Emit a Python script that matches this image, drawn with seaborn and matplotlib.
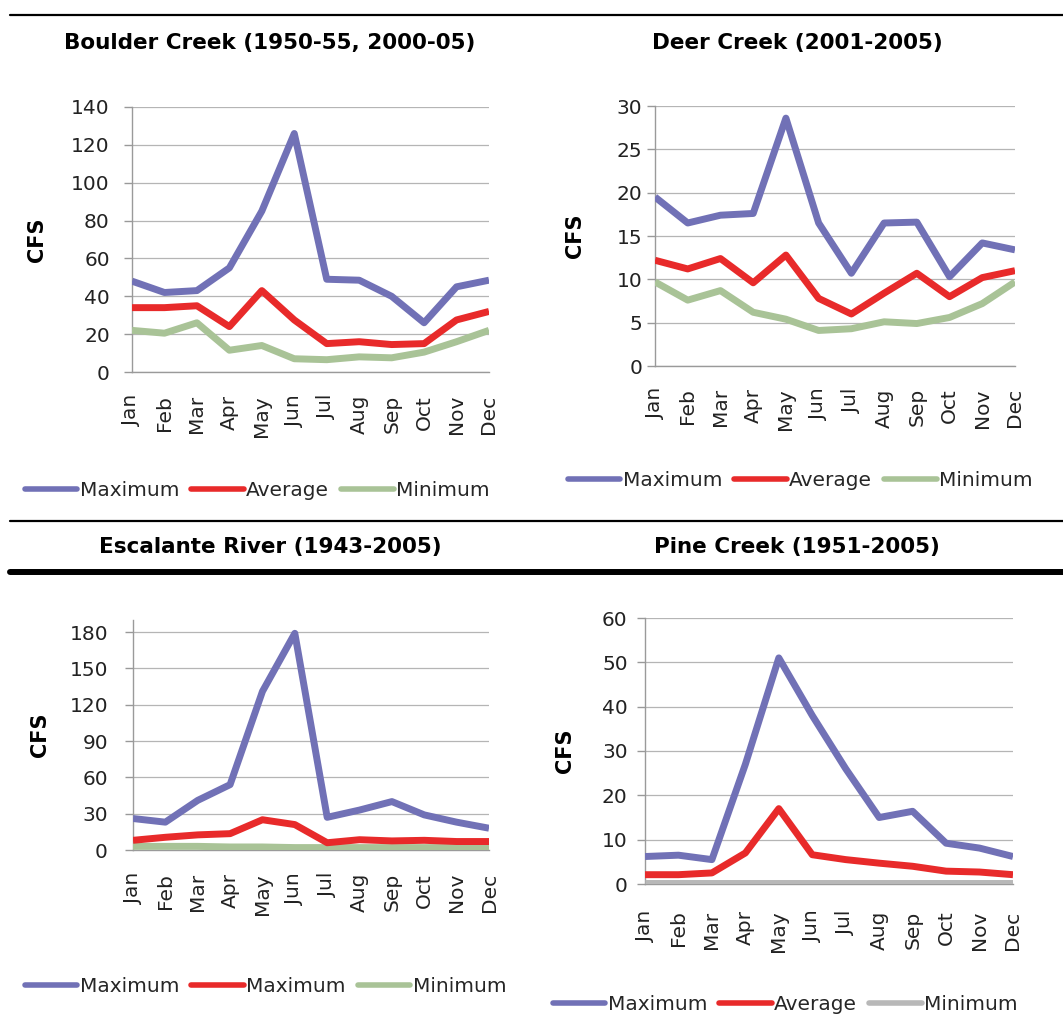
import matplotlib
matplotlib.use("Agg")
import matplotlib.pyplot as plt
import seaborn as sns
import numpy as np
import pandas as pd
from matplotlib.lines import Line2D

sns.set_theme(style="white")
plt.rcParams['font.family'] = ['DejaVu Sans']

months = ['Jan', 'Feb', 'Mar', 'Apr', 'May', 'Jun', 'Jul', 'Aug', 'Sep', 'Oct', 'Nov', 'Dec']

boulder_max = [48, 42, 43, 55, 85, 126, 49, 48.5, 40, 26, 45, 48.5]
boulder_avg = [34, 34, 35, 24, 43, 27.5, 15, 16, 14.5, 15, 27.5, 32]
boulder_min = [22, 20.5, 26, 11.5, 14, 7, 6.5, 8, 7.5, 10.5, 16, 22]

deer_max = [19.5, 16.5, 17.4, 17.6, 28.6, 16.5, 10.7, 16.5, 16.6, 10.3, 14.2, 13.4]
deer_avg = [12.2, 11.2, 12.4, 9.6, 12.8, 7.8, 6.0, 8.4, 10.7, 8.0, 10.2, 11.0]
deer_min = [9.7, 7.6, 8.7, 6.2, 5.4, 4.1, 4.3, 5.1, 4.9, 5.6, 7.2, 9.7]

escalante_max = [26, 23, 41, 54, 131, 179, 27, 33, 40, 29, 23, 18]
escalante_avg = [8, 10.5, 12.5, 13.5, 25, 21, 6, 8.5, 7.5, 8, 7, 7]
escalante_min = [3, 3, 3, 2.5, 2.5, 2, 2, 2, 2, 2, 2, 2.5]

pine_max = [6.2, 6.5, 5.5, 27, 51, 38, 26, 15, 16.4, 9.2, 8.1, 6.2]
pine_avg = [2.1, 2.1, 2.5, 7, 17, 6.6, 5.5, 4.7, 4.0, 2.9, 2.7, 2.1]
pine_min = [0.2, 0.2, 0.2, 0.2, 0.2, 0.2, 0.2, 0.2, 0.2, 0.2, 0.2, 0.2]

titles = ['Boulder Creek (1950-55, 2000-05)', 'Deer Creek (2001-2005)',
          'Escalante River (1943-2005)', 'Pine Creek (1951-2005)']
labels_std = ['Maximum', 'Average', 'Minimum']
labels_esc = ['Maximum', 'Maximum', 'Minimum']

C_MAX = '#7171b6'
C_AVG = '#e82a2a'
C_MIN = '#a9c397'
C_MIN_GRAY = '#b8b8b8'

W, H = 1063, 1025
fig = plt.figure(figsize=(W / 100, H / 100), dpi=100)

def px_axes(left, right, top, bottom):
    return fig.add_axes([left / W, 1 - bottom / H, (right - left) / W, (bottom - top) / H])

panels = [
    dict(box=(132, 489, 107, 372), series=(boulder_max, boulder_avg, boulder_min),
         labels=labels_std, ymax=140, ystep=20, ytop=140, ypad=10, xpad=16.5,
         lab_x=-0.238, leg=(25, 491), mincol=C_MIN, title=(270, 43)),
    dict(box=(655, 1015, 106, 366), series=(deer_max, deer_avg, deer_min),
         labels=labels_std, ymax=30, ystep=5, ytop=30, ypad=3, xpad=16,
         lab_x=-0.194, leg=(568, 481), mincol=C_MIN, title=(797, 43)),
    dict(box=(133, 489, 620, 850), series=(escalante_max, escalante_avg, escalante_min),
         labels=labels_esc, ymax=180, ystep=30, ytop=190, ypad=12, xpad=16.5,
         lab_x=-0.233, leg=(25, 987), mincol=C_MIN, title=(270, 547)),
    dict(box=(645, 1013, 618, 884), series=(pine_max, pine_avg, pine_min),
         labels=labels_std, ymax=60, ystep=10, ytop=60, ypad=6.5, xpad=19,
         lab_x=-0.19, leg=(553, 1005), mincol=C_MIN_GRAY, title=(797, 547)),
]

x = np.arange(len(months))
for i, p in enumerate(panels):
    ax = px_axes(*p['box'])
    colors = [C_MAX, C_AVG, p['mincol']]
    order = [2, 1, 0]
    for k in order:
        sns.lineplot(x=x, y=p['series'][k], ax=ax, color=colors[k], linewidth=5,
                     solid_joinstyle='round', solid_capstyle='butt', legend=False,
                     zorder=3 + (2 - k))
    ax.set_xlim(0, 11)
    ax.set_ylim(0, p['ytop'])
    ax.set_yticks(np.arange(0, p['ymax'] + 1, p['ystep']))
    ax.set_xticks(x)
    ax.set_xticklabels(months, rotation=90, fontsize=14.5, color='#222222')
    ax.tick_params(axis='x', length=0, pad=p['xpad'])
    ax.tick_params(axis='y', length=6, width=1, color='#999999', direction='out',
                   pad=p['ypad'], labelsize=14.5, labelcolor='#222222', left=True)
    ax.grid(axis='y', color='#b5b5b5', linewidth=0.9)
    ax.grid(axis='x', visible=False)
    for s in ['top', 'right']:
        ax.spines[s].set_visible(False)
    for s in ['left', 'bottom']:
        ax.spines[s].set_color('#9a9a9a')
        ax.spines[s].set_linewidth(1)
    ax.set_facecolor('white')
    ax.set_xlabel('')
    ax.set_ylabel('CFS', fontsize=15, fontweight='bold', color='black')
    ax.yaxis.set_label_coords(p['lab_x'], 0.5)

    handles = [Line2D([0], [0], color=c, lw=4) for c in colors]
    lx, ly = p['leg']
    ax.legend(handles, p['labels'], loc='center left',
              bbox_to_anchor=(lx / W, 1 - ly / H), bbox_transform=fig.transFigure,
              ncol=3, frameon=False, fontsize=14.5, handlelength=2.6,
              handletextpad=0.12, columnspacing=0.6, borderpad=0, borderaxespad=0)

    tx, ty = p['title']
    fig.text(tx / W, 1 - ty / H, titles[i], ha='center', va='center',
             fontsize=15.5, fontweight='bold', color='black')

# horizontal rules
fig.add_artist(Line2D([10 / W, 1], [1 - 15 / H, 1 - 15 / H], color='black', lw=1.6,
                      transform=fig.transFigure))
fig.add_artist(Line2D([10 / W, 1], [1 - 521 / H, 1 - 521 / H], color='black', lw=1.6,
                      transform=fig.transFigure))
fig.add_artist(Line2D([10 / W, 1], [1 - 572 / H, 1 - 572 / H], color='black', lw=4.3,
                      transform=fig.transFigure))

fig.savefig('out.png', dpi=100, facecolor='white')
